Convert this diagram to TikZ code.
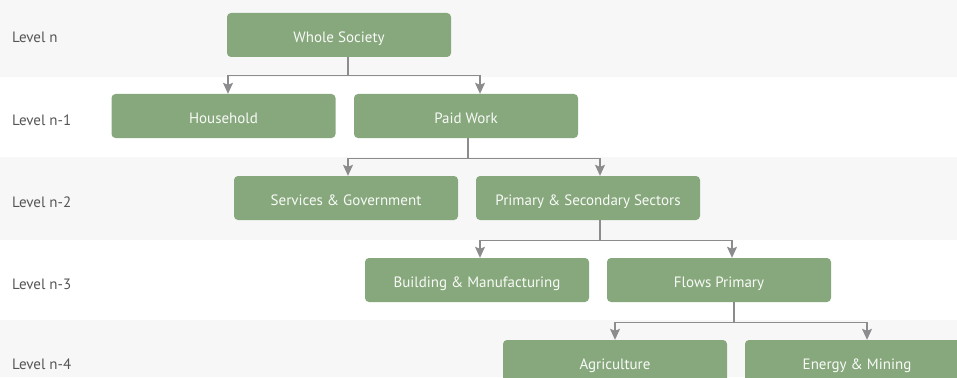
\documentclass[tikz,border=0pt]{standalone}
\usepackage{fontspec}
\setmainfont{PT Sans}
\usetikzlibrary{arrows.meta}
\definecolor{leaf}{RGB}{135,168,124}
\definecolor{band}{RGB}{247,247,247}
\definecolor{wire}{RGB}{140,140,142}
\definecolor{lvltext}{RGB}{85,85,85}

\begin{document}
\begin{tikzpicture}[x=1pt,y=-1pt,
  box/.style={fill=leaf,text=white!94!leaf,rounded corners=4pt,minimum width=224pt,minimum height=44pt,inner sep=0pt,text height=14.5pt,text depth=0pt,font=\fontsize{15}{17}\selectfont},
  lvl/.style={anchor=west,text=lvltext,inner sep=0pt,text height=14.5pt,text depth=0pt,font=\fontsize{15}{17}\selectfont},
  link/.style={draw=wire,line width=1.2pt,-{Stealth[width=10pt,length=11pt,inset=2pt]}}]
\useasboundingbox (0,0) rectangle (957,377);
\clip (0,0) rectangle (957,377);
% bands
\fill [band] (0,0) rectangle (957,77);
\fill [band] (0,157) rectangle (957,240);
\fill [band] (0,320) rectangle (957,377);
% levels
\node [lvl] (l0) at (12,35) {Level n};
\node [lvl] (l1) at (12,118) {Level n-1};
\node [lvl] (l2) at (12,200) {Level n-2};
\node [lvl] (l3) at (12,282) {Level n-3};
\node [lvl] (l4) at (12,362) {Level n-4};
% boxes
\node [box] (ws) at (339,35) {Whole Society};
\node [box] (hh) at (223.5,116) {Household};
\node [box] (pw) at (466,116) {Paid Work};
\node [box] (sg) at (346,198) {Services \& Government};
\node [box] (ps) at (588,198) {Primary \& Secondary Sectors};
\node [box] (bm) at (477,280) {Building \& Manufacturing};
\node [box] (fp) at (719,280) {Flows Primary};
\node [box] (ag) at (615,362) {Agriculture};
\node [box] (em) at (857,362) {Energy \& Mining};
% links
\draw [link] ([xshift=9pt]ws.south) -- ++(0,18) -| ([xshift=4.5pt]hh.north);
\draw [link] ([xshift=9pt]ws.south) -- ++(0,18) -| ([xshift=14pt]pw.north);
\draw [link] ([xshift=2pt]pw.south) -- ++(0,20) -| ([xshift=2pt]sg.north);
\draw [link] ([xshift=2pt]pw.south) -- ++(0,20) -| ([xshift=12pt]ps.north);
\draw [link] ([xshift=12pt]ps.south) -- ++(0,20) -| ([xshift=3pt]bm.north);
\draw [link] ([xshift=12pt]ps.south) -- ++(0,20) -| ([xshift=13pt]fp.north);
\draw [link] ([xshift=15pt]fp.south) -- ++(0,20) -| (ag.north);
\draw [link] ([xshift=15pt]fp.south) -- ++(0,20) -| ([xshift=10pt]em.north);

\end{tikzpicture}
\end{document}
